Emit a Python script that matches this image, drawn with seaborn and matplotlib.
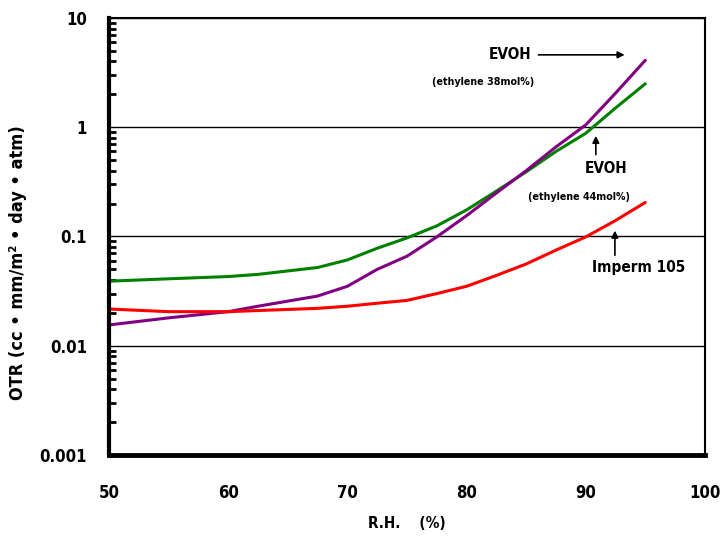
import numpy as np
import pandas as pd
import matplotlib
matplotlib.use("Agg")
import matplotlib.pyplot as plt
import seaborn as sns
from matplotlib.ticker import LogLocator, NullFormatter

rh = [50, 55, 60, 62.5, 67.5, 70, 72.5, 75, 77.5, 80, 82.5, 85, 87.5, 90, 92.5, 95]
evoh44 = [0.039, 0.041, 0.043, 0.045, 0.052, 0.061, 0.078, 0.097, 0.125, 0.175, 0.26, 0.39, 0.60, 0.88, 1.5, 2.5]
evoh38 = [0.0155, 0.018, 0.0205, 0.023, 0.0285, 0.035, 0.050, 0.066, 0.099, 0.155, 0.25, 0.40, 0.66, 1.05, 2.05, 4.1]
imperm = [0.0217, 0.0205, 0.0205, 0.021, 0.022, 0.023, 0.0245, 0.026, 0.030, 0.035, 0.044, 0.056, 0.075, 0.099, 0.14, 0.205]

series_names = ["EVOH 44", "EVOH 38", "Imperm 105"]
colors = ["#008000", "#800080", "#ff0000"]

df = pd.concat([
    pd.DataFrame({"rh": rh, "otr": evoh44, "s": series_names[0]}),
    pd.DataFrame({"rh": rh, "otr": evoh38, "s": series_names[1]}),
    pd.DataFrame({"rh": rh, "otr": imperm, "s": series_names[2]}),
])

sns.set_style("white")
plt.rcParams['font.family'] = ['DejaVu Sans']
plt.rcParams['font.stretch'] = 'condensed'
plt.rcParams['font.weight'] = 'bold'
plt.rcParams['text.color'] = 'black'
plt.rcParams['axes.labelcolor'] = 'black'
plt.rcParams['xtick.color'] = 'black'
plt.rcParams['ytick.color'] = 'black'

fig = plt.figure(figsize=(7.2, 5.37), dpi=100)
ax = fig.add_axes([0.1514, 0.1527, 0.979 - 0.1514, 0.9665 - 0.1527])

sns.lineplot(data=df, x="rh", y="otr", hue="s", palette=dict(zip(series_names, colors)),
             linewidth=2.2, legend=False, ax=ax, sort=False)

ax.set_yscale("log")
ax.set_xlim(50, 100)
ax.set_ylim(0.001, 10)
ax.set_yticks([0.001, 0.01, 0.1, 1, 10])
ax.set_yticklabels(["0.001", "0.01", "0.1", "1", "10"])
ax.yaxis.set_minor_locator(LogLocator(base=10, subs=np.arange(2, 10)))
ax.yaxis.set_minor_formatter(NullFormatter())
ax.set_xticks([50, 60, 70, 80, 90, 100])
for y in [0.01, 0.1, 1, 10]:
    ax.axhline(y, color="black", lw=1.0, zorder=0)

ax.tick_params(axis="y", which="major", direction="in", length=6, width=2.5, labelsize=12, pad=16)
ax.tick_params(axis="y", which="minor", direction="in", length=5, width=2, left=True)
ax.tick_params(axis="x", which="major", direction="inout", length=14, width=3, labelsize=12, pad=14)

ax.spines["left"].set_linewidth(3)
ax.spines["bottom"].set_linewidth(3.5)
ax.spines["top"].set_linewidth(1.5)
ax.spines["right"].set_linewidth(1.5)
for s in ax.spines.values():
    s.set_color("black")

ax.set_ylabel("OTR (cc • mm/m² • day • atm)", fontsize=13, fontweight="heavy")
ax.yaxis.set_label_coords(-0.137, 0.44)
ax.set_xlabel("R.H.    (%)", fontsize=11, fontweight="bold", labelpad=10)

ax.annotate("", xy=(93.5, 4.6), xytext=(85.8, 4.6),
            arrowprops=dict(arrowstyle="-|>", color="black", lw=1.2))
ax.text(83.64, 4.6, "EVOH", fontsize=11, fontweight="bold", va="center", ha="center")
ax.text(81.4, 2.6, "(ethylene 38mol%)", fontsize=7.7, fontweight="bold", va="center", ha="center")

ax.annotate("", xy=(90.85, 0.885), xytext=(90.85, 0.53),
            arrowprops=dict(arrowstyle="-|>", color="black", lw=1.2))
ax.text(91.7, 0.42, "EVOH", fontsize=11, fontweight="bold", va="center", ha="center")
ax.text(89.4, 0.23, "(ethylene 44mol%)", fontsize=7.7, fontweight="bold", va="center", ha="center")

ax.annotate("", xy=(92.45, 0.12), xytext=(92.45, 0.0635),
            arrowprops=dict(arrowstyle="-|>", color="black", lw=1.2))
ax.text(94.46, 0.0515, "Imperm 105", fontsize=11, fontweight="bold", va="center", ha="center")

fig.savefig("out.png", dpi=100)
